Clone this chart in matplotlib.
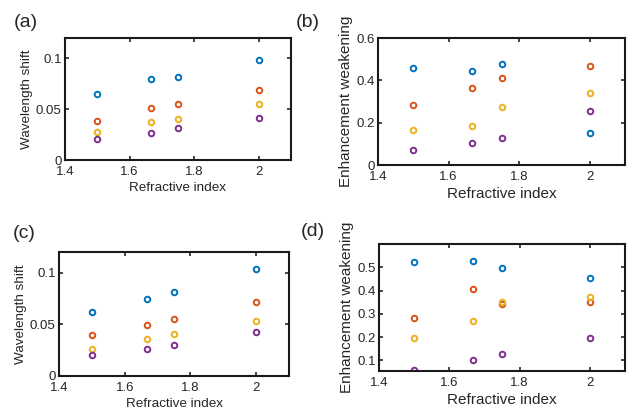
import matplotlib
matplotlib.use("Agg")
import matplotlib.pyplot as plt

plt.rcParams['font.family'] = ['Liberation Sans', 'DejaVu Sans']

refractive_index = [1.5, 1.667, 1.75, 2.0]
series_colors = ['#0072BD', '#D95319', '#EDB120', '#7E2F8E']

# (a) wavelength shift
a_blue = [0.0649, 0.0797, 0.0816, 0.0987]
a_orange = [0.0387, 0.0508, 0.0548, 0.0689]
a_yellow = [0.0272, 0.0370, 0.0407, 0.0548]
a_purple = [0.0203, 0.0269, 0.0315, 0.0416]

# (b) enhancement weakening
b_blue = [0.460, 0.443, 0.476, 0.152]
b_orange = [0.283, 0.366, 0.410, 0.466]
b_yellow = [0.165, 0.185, 0.275, 0.338]
b_purple = [0.071, 0.102, 0.130, 0.256]

# (c) wavelength shift
c_blue = [0.0618, 0.0741, 0.0812, 0.1032]
c_orange = [0.0395, 0.0489, 0.0553, 0.0712]
c_yellow = [0.0259, 0.0356, 0.0411, 0.0534]
c_purple = [0.0201, 0.0259, 0.0298, 0.0427]

# (d) enhancement weakening
d_blue = [0.523, 0.529, 0.497, 0.454]
d_orange = [0.283, 0.406, 0.343, 0.352]
d_yellow = [0.198, 0.267, 0.352, 0.371]
d_purple = [0.058, 0.100, 0.129, 0.196]

x_ticks = [1.4, 1.6, 1.8, 2.0]
x_ticklabels = ['1.4', '1.6', '1.8', '2']

fig = plt.figure(figsize=(6.29, 4.11), dpi=100)

panels = [
    dict(pos=[0.1033, 0.6107, 0.3593, 0.2968], data=[a_blue, a_orange, a_yellow, a_purple],
         ylim=(0, 0.12), yticks=[0, 0.05, 0.1], ylabels=['0', '0.05', '0.1'],
         ylabel='Wavelength shift', lfs=9.7, tag='(a)', tagpos=(0.022, 0.946)),
    dict(pos=[0.601, 0.5985, 0.3927, 0.309], data=[b_blue, b_orange, b_yellow, b_purple],
         ylim=(0, 0.6), yticks=[0, 0.2, 0.4, 0.6], ylabels=['0', '0.2', '0.4', '0.6'],
         ylabel='Enhancement weakening', lfs=11, tag='(b)', tagpos=(0.47, 0.946)),
    dict(pos=[0.0938, 0.0852, 0.3657, 0.3017], data=[c_blue, c_orange, c_yellow, c_purple],
         ylim=(0, 0.12), yticks=[0, 0.05, 0.1], ylabels=['0', '0.05', '0.1'],
         ylabel='Wavelength shift', lfs=9.7, tag='(c)', tagpos=(0.02, 0.433)),
    dict(pos=[0.6025, 0.0973, 0.391, 0.309], data=[d_blue, d_orange, d_yellow, d_purple],
         ylim=(0.054, 0.6), yticks=[0.1, 0.2, 0.3, 0.4, 0.5], ylabels=['0.1', '0.2', '0.3', '0.4', '0.5'],
         ylabel='Enhancement weakening', lfs=11, tag='(d)', tagpos=(0.478, 0.436)),
]

for p in panels:
    ax = fig.add_axes(p['pos'])
    for vals, col in zip(p['data'], series_colors):
        ax.plot(refractive_index, vals, linestyle='none', marker='o', markersize=4,
                markerfacecolor='none', markeredgecolor=col, markeredgewidth=1.4, clip_on=True)
    ax.set_xlim(1.4, 2.1)
    ax.set_ylim(*p['ylim'])
    ax.set_xticks(x_ticks)
    ax.set_xticklabels(x_ticklabels)
    ax.set_yticks(p['yticks'])
    ax.set_yticklabels(p['ylabels'])
    ax.tick_params(direction='in', top=True, right=True, length=3, width=1.2,
                   labelsize=9.5, colors='#262626')
    ax.tick_params(axis='x', pad=4.5)
    ax.tick_params(axis='y', pad=2.5)
    for s in ax.spines.values():
        s.set_linewidth(1.5)
        s.set_color('#1a1a1a')
    ax.set_xlabel('Refractive index', fontsize=p['lfs'], color='#262626', labelpad=2.5)
    ax.set_ylabel(p['ylabel'], fontsize=p['lfs'], color='#262626', labelpad=2)
    fig.text(p['tagpos'][0], p['tagpos'][1], p['tag'], fontsize=14, color='#262626',
             ha='left', va='center')

fig.savefig('out.png', dpi=100)
